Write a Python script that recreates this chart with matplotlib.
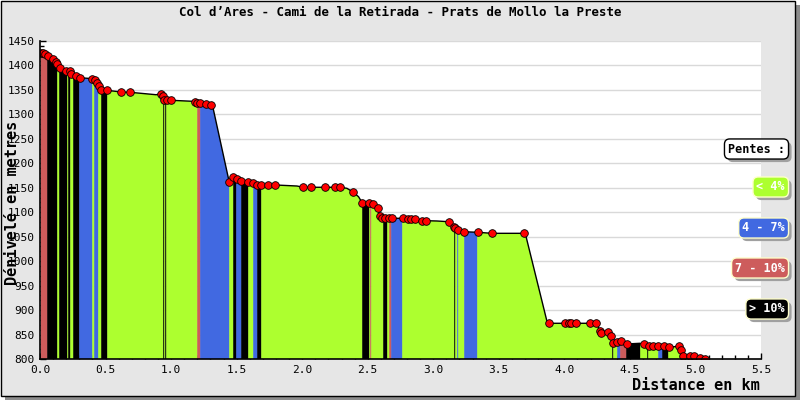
import numpy as np
import matplotlib
matplotlib.use('Agg')
import matplotlib.pyplot as plt
import matplotlib.patheffects as pe
from matplotlib.patches import Polygon, Rectangle
from matplotlib.ticker import MultipleLocator

# red dots of the profile (km, m)
dot_km = [0.005, 0.023, 0.040, 0.061, 0.102, 0.120, 0.132, 0.155, 0.196, 0.227,
          0.239, 0.273, 0.303, 0.399, 0.418, 0.437, 0.450, 0.468, 0.511, 0.621,
          0.689, 0.924, 0.937, 0.947, 0.967, 1.000, 1.183, 1.201, 1.224, 1.267,
          1.305, 1.443, 1.476, 1.502, 1.534, 1.590, 1.624, 1.659, 1.687, 1.738,
          1.794, 2.010, 2.069, 2.176, 2.252, 2.290, 2.384, 2.460, 2.506, 2.537,
          2.575, 2.595, 2.608, 2.634, 2.659, 2.682, 2.766, 2.811, 2.832, 2.863,
          2.914, 2.944, 3.117, 3.155, 3.168, 3.186, 3.231, 3.338, 3.448, 3.695,
          3.880, 4.008, 4.033, 4.053, 4.092, 4.193, 4.244, 4.275, 4.282, 4.331,
          4.359, 4.369, 4.402, 4.430, 4.476, 4.611, 4.649, 4.679, 4.714, 4.758,
          4.796, 4.872, 4.888, 4.908, 4.956, 4.989, 5.038, 5.076]
dot_m = [1425.5, 1425.5, 1423.4, 1420.0, 1413.8, 1407.0, 1403.0, 1395.4, 1388.7, 1388.7,
         1382.5, 1378.5, 1375.0, 1373.0, 1370.3, 1364.0, 1357.4, 1349.2, 1349.2, 1345.7,
         1345.1, 1341.7, 1337.6, 1330.0, 1328.8, 1328.8, 1325.9, 1323.9, 1323.3, 1321.2,
         1319.8, 1162.4, 1171.4, 1167.9, 1163.8, 1161.2, 1159.1, 1155.7, 1155.7, 1155.7,
         1155.7, 1151.0, 1151.0, 1151.0, 1151.0, 1151.0, 1142.0, 1118.3, 1119.5, 1116.2,
         1108.0, 1092.3, 1088.8, 1087.6, 1087.6, 1087.6, 1087.6, 1085.6, 1085.6, 1085.6,
         1082.7, 1082.7, 1080.6, 1070.4, 1067.2, 1063.7, 1060.2, 1059.0, 1056.9, 1056.9,
         873.0, 873.0, 873.0, 873.0, 873.0, 873.0, 873.0, 856.6, 853.1, 855.2,
         847.6, 832.1, 834.7, 836.8, 830.7, 830.0, 826.6, 826.6, 826.6, 827.0,
         824.1, 826.0, 818.0, 806.7, 806.7, 806.1, 801.5, 801.0]

# bends of the line without a dot
bend_km = [0.885, 1.170, 1.318, 1.960, 2.341, 2.430, 3.028, 3.708, 3.868, 4.575]
bend_m = [1340.2, 1326.7, 1315.7, 1153.6, 1148.9, 1131.7, 1082.1, 1050.0, 876.2, 832.1]

# slope classes along the track: edges (km) and class of each stretch
band_edges = [0.0, 0.051, 0.127, 0.143, 0.204, 0.216, 0.229, 0.254, 0.298, 0.395,
              0.412, 0.445, 0.463, 0.509, 0.941, 0.947, 0.954, 0.960, 1.201, 1.221,
              1.440, 1.471, 1.496, 1.532, 1.585, 1.624, 1.654, 1.685, 2.456, 2.506,
              2.519, 2.527, 2.616, 2.647, 2.662, 2.677, 2.761, 3.160, 3.168, 3.181,
              3.189, 3.231, 3.336, 4.361, 4.369, 4.403, 4.427, 4.473, 4.575, 4.634,
              4.641, 4.715, 4.746, 4.792, 4.885, 4.893, 5.076]
band_class = ['r', 'k', 'g', 'k', 'g', 'k', 'g', 'k', 'b', 'g',
              'b', 'g', 'k', 'g', 'k', 'g', 'k', 'g', 'r', 'b',
              'g', 'k', 'b', 'k', 'g', 'b', 'k', 'g', 'k', 'g',
              'r', 'g', 'k', 'g', 'r', 'b', 'g', 'k', 'g', 'b',
              'g', 'b', 'g', 'k', 'g', 'b', 'r', 'k', 'g', 'k',
              'g', 'b', 'k', 'g', 'k', 'g']

class_colors = {'g': '#adff2f', 'b': '#4169e1', 'r': '#cd5c5c', 'k': '#000000'}
legend_labels = ['< 4%', '4 - 7%', '7 - 10%', '> 10%']
legend_keys = ['g', 'b', 'r', 'k']

title = "Col d\u2019Ares - Cami de la Retirada - Prats de Mollo la Preste"
mono = 'DejaVu Sans Mono'

W, H = 800, 400
fig = plt.figure(figsize=(8, 4), dpi=100, facecolor='white')

# frame with shadow
fig.patches.append(Rectangle((5 / W, 0), 795 / W, 395 / H, transform=fig.transFigure,
                             facecolor='#8c8c8c', edgecolor='none', zorder=-3))
fig.patches.append(Rectangle((0.5 / W, 4.5 / H), 794 / W, 395 / H, transform=fig.transFigure,
                             facecolor='#e6e6e6', edgecolor='black', linewidth=1, zorder=-2))

ax = fig.add_axes([40 / W, 1 - 359 / H, 721 / W, 318 / H])
ax.set_facecolor('white')
ax.set_xlim(0, 5.5)
ax.set_ylim(800, 1450)

# profile line = dots + bends, sorted by distance
pts = sorted(zip(dot_km + bend_km, dot_m + bend_m))
line_km = [p[0] for p in pts]
line_m = [p[1] for p in pts]

verts = [(line_km[0], 800)] + list(zip(line_km, line_m)) + [(line_km[-1], 800)]
clip = Polygon(verts, closed=True, transform=ax.transData, facecolor='none', edgecolor='none')
ax.add_patch(clip)

for i, c in enumerate(band_class):
    span = ax.axvspan(band_edges[i], band_edges[i + 1], color=class_colors[c],
                      linewidth=0.4, zorder=2)
    span.set_clip_path(clip)

ax.plot(line_km, line_m, color='black', linewidth=1, zorder=3)
ax.plot(dot_km, dot_m, 'o', color='#ff0000', markeredgecolor='black',
        markeredgewidth=0.6, markersize=5.5, zorder=4)

# grid and axes
ax.yaxis.set_major_locator(MultipleLocator(50))
ax.yaxis.set_minor_locator(MultipleLocator(10))
ax.xaxis.set_major_locator(MultipleLocator(0.5))
ax.xaxis.set_minor_locator(MultipleLocator(0.1))
ax.grid(axis='y', color='#d9d9d9', linewidth=1, zorder=0)
ax.set_axisbelow(True)
for s in ['top', 'right']:
    ax.spines[s].set_visible(False)
for s in ['left', 'bottom']:
    ax.spines[s].set_linewidth(1.2)
    ax.spines[s].set_zorder(5)
ax.tick_params(which='both', direction='in', colors='black', labelsize=8)
ax.tick_params(which='major', length=4, width=1, pad=4)
ax.tick_params(which='minor', length=3, width=1)
ax.set_xticklabels([f'{v:.1f}' for v in ax.get_xticks()], family=mono)
ax.set_yticks(np.arange(800, 1451, 50))
ax.set_yticklabels([str(v) for v in range(800, 1451, 50)], family=mono)
ax.set_xlim(0, 5.5)

fig.text(400 / W, 1 - 13 / H, title, ha='center', va='center', family=mono,
         fontsize=9, fontweight='bold')
fig.text(13 / W, 1 - 203 / H, 'D\u00e9nivel\u00e9 en metres', rotation=90, ha='center',
         va='center', family=mono, fontsize=11, fontweight='bold')
fig.text(760 / W, 1 - 385 / H, 'Distance en km', ha='right', va='center', family=mono,
         fontsize=11, fontweight='bold')

# legend boxes with drop shadow
def box(y, text, fc, tc, ec):
    t = fig.text(785 / W, 1 - y / H, text, color=tc, ha='right', va='center', family=mono,
                 fontsize=8.5, fontweight='bold',
                 bbox=dict(boxstyle='round,pad=0.3,rounding_size=0.45', fc=fc, ec=ec, lw=1))
    t.get_bbox_patch().set_path_effects([
        pe.SimplePatchShadow(offset=(2.2, -2.2), shadow_rgbFace='#a0a0a0', alpha=1),
        pe.Normal()])

box(149, 'Pentes :', 'white', 'black', 'black')
for yy, lab, key in zip([187, 228, 268, 309], legend_labels, legend_keys):
    box(yy, lab, class_colors[key], 'white', '#ffffcc')

fig.savefig('out.png', dpi=100, facecolor=fig.get_facecolor())
